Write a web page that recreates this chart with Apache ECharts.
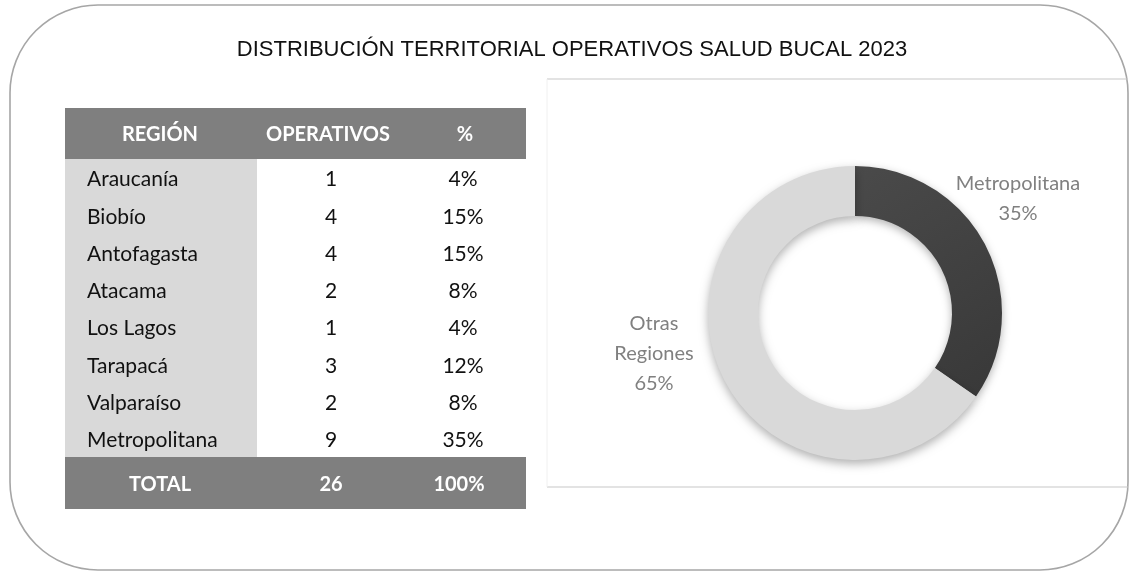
<!DOCTYPE html>
<html>
<head>
<meta charset="utf-8">
<script src="https://cdn.jsdelivr.net/npm/echarts@6/dist/echarts.min.js"></script>
<style>
html,body{margin:0;padding:0;background:#fff;}
#chart{width:1130px;height:572px;}
</style>
</head>
<body>
<div id="chart"></div>
<script>
// ---------- DATA ----------
var TITLE = 'DISTRIBUCIÓN TERRITORIAL OPERATIVOS SALUD BUCAL 2023';
var HEADERS = ['REGIÓN', 'OPERATIVOS', '%'];
var REGIONS = ['Araucanía', 'Biobío', 'Antofagasta', 'Atacama', 'Los Lagos', 'Tarapacá', 'Valparaíso', 'Metropolitana'];
var OPERATIVOS = [1, 4, 4, 2, 1, 3, 2, 9];
var PCT = [4, 15, 15, 8, 4, 12, 8, 35];
var TOTAL_LABEL = 'TOTAL';
var TOTAL_OPS = 26;
var TOTAL_PCT = 100;
var PIE_NAMES = ['Metropolitana', 'Otras Regiones'];
var PIE_LABELS = ['Metropolitana', 'Otras\nRegiones'];
var PIE_VALUES = [9, 17];

// ---------- LAYOUT / STYLE ----------
var TABLE_LEFT = 65, TABLE_WIDTH = 461;
var COLS = { split: (257 - 65) / 461, regionLeft: (87 - 65) / 461, c1: (160 - 65) / 461, c2: (331 - 65) / 461, c3: (463 - 65) / 461 };
var BODY_FONT = 'Lato, "Noto Sans", sans-serif';
var DARK = '#7f7f7f', LIGHT = '#d9d9d9';
var PIE_LABEL_POS = [[1018, 199], [654, 354]];

var chart = echarts.init(document.getElementById('chart'), null, { renderer: 'canvas' });

function txt(x, y, text, opts) {
  return {
    type: 'text',
    style: Object.assign({
      x: x, y: y, text: text, fill: '#111', font: '21px ' + BODY_FONT,
      align: 'center', verticalAlign: 'middle'
    }, opts || {})
  };
}

var headerBold = { fill: '#fff', font: 'bold 20px ' + BODY_FONT };

var option = {
  animation: false,
  backgroundColor: '#fff',
  title: {
    text: TITLE,
    left: 567,
    textAlign: 'center',
    top: 34,
    textStyle: { fontFamily: '"Liberation Sans", Arial, sans-serif', fontSize: 22, fontWeight: 'normal', color: '#111' }
  },
  graphic: [
    { type: 'rect', z: -1, shape: { x: 10, y: 5, width: 1118, height: 565, r: 88 }, style: { fill: '#fff', stroke: '#a6a6a6', lineWidth: 1.6 } },
    { type: 'line', shape: { x1: 547, y1: 79, x2: 1128, y2: 79 }, style: { stroke: '#c8c8c8', lineWidth: 1.2 } },
    { type: 'line', shape: { x1: 547, y1: 487, x2: 1128, y2: 487 }, style: { stroke: '#c8c8c8', lineWidth: 1.2 } },
    { type: 'line', shape: { x1: 547, y1: 79, x2: 547, y2: 487 }, style: { stroke: '#f0f0f0', lineWidth: 1 } }
  ],
  grid: [
    { left: TABLE_LEFT, top: 108, width: TABLE_WIDTH, height: 51 },
    { left: TABLE_LEFT, top: 159, width: TABLE_WIDTH, height: 298 },
    { left: TABLE_LEFT, top: 457, width: TABLE_WIDTH, height: 52 }
  ],
  xAxis: [0, 1, 2].map(function (g) {
    return { type: 'value', gridIndex: g, min: 0, max: 1, show: false };
  }),
  yAxis: [
    { type: 'category', gridIndex: 0, data: ['header'], show: false },
    { type: 'category', gridIndex: 1, data: REGIONS, inverse: true, show: false },
    { type: 'category', gridIndex: 2, data: ['total'], show: false }
  ],
  series: [
    {
      type: 'custom', xAxisIndex: 0, yAxisIndex: 0, silent: true,
      data: [[0, 0]],
      renderItem: function (params, api) {
        var cs = params.coordSys;
        var c = api.coord([0, 0]);
        var h = api.size([0, 1])[1];
        return { type: 'group', children: [
          { type: 'rect', shape: { x: cs.x, y: c[1] - h / 2, width: cs.width, height: h }, style: { fill: DARK } },
          txt(cs.x + cs.width * COLS.c1, c[1] + 1, HEADERS[0], headerBold),
          txt(cs.x + cs.width * COLS.c2 - 3, c[1] + 1, HEADERS[1], headerBold),
          txt(cs.x + cs.width * COLS.c3 + 2, c[1] + 1, HEADERS[2], headerBold)
        ] };
      }
    },
    {
      type: 'custom', xAxisIndex: 1, yAxisIndex: 1, silent: true,
      data: REGIONS.map(function (r, i) { return [0, i]; }),
      renderItem: function (params, api) {
        var i = params.dataIndex;
        var cs = params.coordSys;
        var c = api.coord([0, i]);
        var h = api.size([0, 1])[1];
        var ty = c[1] + 2;
        var top = Math.floor(c[1] - h / 2);
        return { type: 'group', children: [
          { type: 'rect', shape: { x: cs.x, y: top, width: cs.width * COLS.split, height: Math.ceil(h) + 1 }, style: { fill: LIGHT } },
          txt(cs.x + cs.width * COLS.regionLeft, ty, REGIONS[i], { align: 'left' }),
          txt(cs.x + cs.width * COLS.c2, ty, String(OPERATIVOS[i])),
          txt(cs.x + cs.width * COLS.c3, ty, PCT[i] + '%')
        ] };
      }
    },
    {
      type: 'custom', xAxisIndex: 2, yAxisIndex: 2, silent: true,
      data: [[0, 0]],
      renderItem: function (params, api) {
        var cs = params.coordSys;
        var c = api.coord([0, 0]);
        var h = api.size([0, 1])[1];
        return { type: 'group', children: [
          { type: 'rect', shape: { x: cs.x, y: c[1] - h / 2, width: cs.width, height: h }, style: { fill: DARK } },
          txt(cs.x + cs.width * COLS.c1, c[1] + 2, TOTAL_LABEL, headerBold),
          txt(cs.x + cs.width * COLS.c2, c[1] + 2, String(TOTAL_OPS), headerBold),
          txt(cs.x + cs.width * COLS.c3 - 4, c[1] + 2, TOTAL_PCT + '%', headerBold)
        ] };
      }
    },
    {
      type: 'pie',
      center: [855, 313],
      radius: [97, 147],
      startAngle: 90,
      clockwise: true,
      silent: true,
      data: PIE_NAMES.map(function (n, i) {
        return {
          name: n, value: PIE_VALUES[i],
          itemStyle: i === 0
            ? { color: { type: 'linear', x: 0, y: 0, x2: 1, y2: 1, colorStops: [{ offset: 0, color: '#4a4a4a' }, { offset: 1, color: '#383838' }] }, shadowBlur: 8, shadowColor: 'rgba(0,0,0,0.3)', shadowOffsetY: 3 }
            : { color: LIGHT, shadowBlur: 10, shadowColor: 'rgba(0,0,0,0.3)', shadowOffsetY: 4 }
        };
      }),
      label: {
        show: true,
        position: 'outside',
        alignTo: 'none',
        overflow: 'none',
        width: 200,
        formatter: function (p) { return PIE_LABELS[p.dataIndex] + '\n' + Math.round(p.percent) + '%'; },
        color: '#808080',
        fontFamily: BODY_FONT,
        fontSize: 20,
        lineHeight: 30,
        align: 'center'
      },
      labelLine: { show: false },
      labelLayout: function (params) {
        var p = PIE_LABEL_POS[params.dataIndex];
        return { x: p[0], y: p[1], align: 'center', verticalAlign: 'middle' };
      }
    }
  ]
};
chart.setOption(option);
</script>
</body>
</html>
